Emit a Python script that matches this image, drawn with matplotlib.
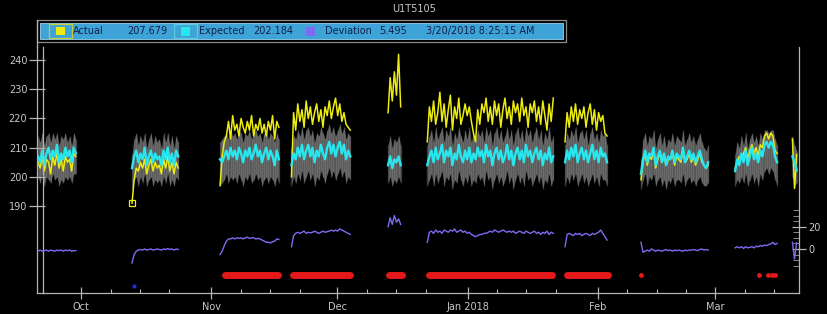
"""
Trend view for tag U1T5105: actual vs expected with deviation on a second axis.
"""

import matplotlib
matplotlib.use("Agg")
import matplotlib.pyplot as plt
import matplotlib.dates as mdates
import pandas as pd
from matplotlib.patches import Rectangle
from matplotlib.lines import Line2D
from matplotlib.ticker import FixedLocator, FuncFormatter

TITLE = "U1T5105"
STEP = "12h"

# start of each run of data (points every 12 hours)
seg_starts = ["2017-09-20 18:00", "2017-10-13 03:00", "2017-11-03 02:00",
              "2017-11-20 02:00", "2017-12-13 02:00", "2017-12-22 10:00",
              "2018-01-24 05:00", "2018-02-11 07:00", "2018-03-05 17:00",
              "2018-03-19 08:25:15"]

actual = [
    [205, 203, 207, 202, 206, 205, 201, 207, 204, 208, 203, 206, 202, 207, 205, 206, 202, 208, 207],
    [191, 199, 203, 202, 205, 203, 206, 201, 204, 206, 202, 205, 203, 204, 201, 206, 203, 207, 202, 205, 201, 205, 203],
    [197, 207, 212, 214, 219, 213, 221, 216, 218, 214, 220, 217, 215, 219, 216, 221, 214, 218, 216, 220, 215, 218, 214, 219, 216, 221, 213, 219, 217],
    [200, 222, 216, 225, 219, 223, 217, 226, 220, 224, 218, 222, 225, 219, 223, 217, 224, 221, 226, 220, 224, 227, 221, 225, 219, 222, 218, 217, 216],
    [222, 234, 226, 236, 228, 242, 224],
    [212, 224, 219, 226, 218, 222, 229, 219, 225, 217, 223, 228, 216, 224, 220, 227, 218, 221, 225, 221,
     224, 219, 215, 212, 223, 218, 225, 222, 227, 219, 224, 218, 226, 221, 225, 217, 223, 227, 220, 224,
     218, 226, 222, 225, 219, 227, 221, 224, 217, 225, 222, 226, 219, 224, 218, 226, 221, 216, 225, 219, 227],
    [212, 222, 217, 224, 219, 225, 218, 223, 220, 224, 217, 222, 225, 218, 223, 216, 222, 219, 221, 215, 214],
    [199, 205, 208, 204, 207, 206, 209, 203, 206, 208, 205, 207, 204, 206, 206, 208, 204, 207, 206, 205,
     209, 205, 206, 208, 205, 207, 204, 206, 208, 205, 204, 203, 204],
    [203, 205, 207, 206, 208, 210, 206, 209, 211, 208, 210, 207, 211, 210, 214, 215, 213, 215, 214, 209, 208],
    [213, 196, 207.679],
]

expected = [
    [207, 205, 209, 204, 208, 210, 206, 209, 207, 211, 205, 208, 206, 210, 207, 209, 205, 210, 208],
    [203, 207, 209, 205, 208, 206, 210, 204, 207, 209, 205, 208, 206, 207, 204, 209, 206, 210, 205, 208, 204, 209, 207],
    [206, 205, 207, 209, 206, 210, 207, 209, 206, 210, 208, 205, 209, 207, 210, 206, 208, 211, 207, 209, 205, 208, 210, 206, 209, 207, 204, 209, 206],
    [204, 208, 206, 210, 207, 211, 206, 209, 211, 207, 210, 205, 209, 207, 211, 208, 206, 210, 212, 208, 211, 207, 210, 212, 208, 211, 206, 209, 207],
    [204, 207, 203, 206, 205, 207, 204],
    [204, 207, 209, 205, 210, 206, 208, 211, 205, 209, 207, 210, 204, 208, 206, 211, 207, 205, 209, 206,
     210, 205, 208, 206, 210, 207, 209, 205, 211, 207, 209, 204, 208, 210, 206, 209, 205, 207, 211, 206,
     209, 204, 208, 210, 206, 209, 205, 211, 207, 209, 205, 208, 210, 206, 209, 204, 208, 206, 210, 205, 207],
    [205, 209, 206, 210, 207, 211, 205, 208, 210, 206, 209, 205, 208, 211, 206, 209, 205, 210, 207, 208, 205],
    [201, 206, 209, 205, 208, 207, 210, 204, 207, 209, 205, 208, 204, 207, 206, 209, 205, 208, 207, 206,
     210, 205, 207, 209, 206, 208, 205, 207, 209, 206, 204, 203, 205],
    [202, 206, 204, 208, 205, 209, 204, 207, 210, 206, 208, 205, 209, 207, 211, 212, 210, 212, 211, 207, 205],
    [207, 205, 202.184],
]

band_hi = [
    [214, 212, 215, 211, 214, 215, 212, 215, 213, 215, 211, 214, 213, 215, 212, 214, 211, 215, 213],
    [208, 213, 215, 211, 214, 212, 215, 210, 213, 215, 211, 214, 212, 213, 210, 215, 212, 215, 211, 214, 210, 214, 212],
    [212, 213, 214, 215, 213, 216, 214, 215, 213, 216, 215, 212, 215, 214, 216, 213, 215, 216, 214, 215, 212, 215, 216, 213, 215, 214, 212, 215, 213],
    [210, 214, 213, 216, 214, 217, 213, 216, 217, 214, 216, 212, 215, 214, 217, 215, 213, 216, 218, 215, 217, 214, 216, 218, 215, 217, 213, 215, 214],
    [211, 214, 210, 213, 212, 214, 211],
    [211, 214, 216, 212, 217, 213, 215, 217, 212, 216, 214, 217, 211, 215, 213, 217, 214, 212, 216, 213,
     217, 212, 215, 213, 216, 214, 216, 212, 217, 214, 216, 211, 215, 217, 213, 216, 212, 214, 217, 213,
     216, 211, 215, 217, 213, 216, 212, 217, 214, 216, 212, 215, 217, 213, 216, 211, 215, 213, 217, 212, 214],
    [211, 215, 213, 216, 214, 217, 212, 215, 216, 213, 216, 211, 215, 217, 213, 215, 212, 216, 214, 215, 211],
    [206, 213, 215, 211, 214, 213, 216, 210, 213, 215, 211, 214, 210, 213, 212, 215, 211, 214, 213, 212,
     216, 211, 213, 215, 212, 214, 211, 213, 215, 212, 210, 209, 211],
    [208, 212, 210, 214, 211, 215, 210, 213, 215, 212, 214, 211, 215, 213, 216, 216, 215, 216, 216, 213, 211],
    [214, 211, 209],
]

band_lo = [
    [200, 198, 201, 197, 200, 199, 198, 201, 199, 200, 197, 199, 198, 200, 199, 200, 198, 201, 201],
    [196, 199, 200, 197, 200, 198, 201, 197, 199, 200, 197, 199, 198, 199, 197, 200, 198, 201, 197, 199, 197, 200, 199],
    [197, 198, 199, 201, 198, 200, 199, 200, 198, 201, 199, 197, 200, 199, 201, 198, 199, 201, 199, 200, 197, 199, 200, 198, 200, 199, 197, 200, 198],
    [197, 200, 198, 201, 199, 202, 198, 200, 202, 199, 201, 197, 200, 199, 202, 200, 198, 201, 203, 200, 202, 199, 201, 203, 200, 202, 198, 200, 199],
    [198, 200, 197, 199, 198, 200, 198],
    [197, 199, 201, 197, 201, 198, 200, 202, 197, 200, 199, 201, 196, 199, 198, 202, 199, 197, 200, 198,
     201, 197, 199, 198, 201, 199, 200, 197, 202, 199, 200, 196, 199, 201, 198, 200, 197, 199, 202, 198,
     200, 196, 199, 201, 198, 200, 197, 202, 199, 200, 197, 199, 201, 198, 200, 196, 199, 198, 201, 197, 199],
    [197, 200, 198, 201, 199, 201, 197, 199, 201, 198, 200, 197, 199, 201, 198, 200, 197, 201, 199, 199, 197],
    [196, 199, 201, 197, 200, 199, 201, 197, 199, 200, 197, 199, 196, 199, 198, 200, 197, 199, 199, 198,
     201, 197, 199, 200, 198, 199, 197, 199, 200, 198, 197, 197, 198],
    [197, 199, 198, 200, 198, 201, 197, 199, 201, 198, 200, 197, 201, 199, 202, 203, 201, 203, 202, 199, 197],
    [200, 197, 198],
]

deviation = [
    [-2, -1, -2, -1.5, -1, -2, -1, -1.5, -2, -1, -1.5, -1, -2, -1, -1.5, -1, -2, -1.5, -1.5],
    [-12.5, -5, -2, -1, -0.5, -1, 0, -1, -0.5, 0, -1, -0.5, 0, -0.5, -1, 0, -0.5, 0.5, -0.5, 0, -1, 0, -0.5],
    [-5, -2, 3, 7, 9, 9, 10, 9, 10, 9.5, 10, 9, 10, 10.5, 9.5, 10, 10, 9, 9.5, 9, 8, 7, 6, 6, 5.5, 6.5, 7, 9, 8.5],
    [2, 12, 14, 15, 14, 15, 16, 14, 15, 14.5, 15, 16, 15, 14, 15, 16, 15, 15.5, 16, 17, 16, 17, 16, 18, 17, 16, 15, 14, 13],
    [20, 28, 22, 30, 24, 27, 22],
    [6, 15, 16, 14, 17, 15, 16, 14, 17, 16, 15, 17, 16, 18, 15, 16, 17, 15, 16, 14,
     15, 13, 12, 11, 12, 13, 13, 14, 14, 15, 16, 15, 17, 16, 15, 16, 17, 16, 15, 16,
     15, 16, 14, 15, 16, 15, 14, 16, 15, 14, 15, 16, 14, 15, 13, 15, 14, 16, 13, 15, 14],
    [2, 13, 14, 13, 12, 14, 13, 14, 12, 13, 14, 13, 12, 14, 13, 14, 15, 17, 14, 11, 8],
    [6, -3, -2, -1, -2, 0, -1, -2, -1, -1.5, -2, -1, -0.5, -1.5, -1, -2, -1, -1.5, -1, -1.5,
     -2, -1, -1.5, -1, -1, -0.5, -1, -1.5, -0.5, 0, -1, -0.5, -1],
    [1, 2, 1, 2, 0.5, 2, 1, 1.5, 2, 1, 2.5, 2, 3, 2.5, 3.5, 3, 4, 4.5, 6, 4, 5],
    [6, -9, 5.495],
]

# red status flags (drawn on the deviation axis)
alarm_level = -23.3
alarm_runs = [("2017-11-04 08:00", "2017-11-16 20:00"), ("2017-11-20 12:00", "2017-12-04 00:00"),
              ("2017-12-13 10:00", "2017-12-16 08:00"), ("2017-12-22 20:00", "2018-01-21 00:00"),
              ("2018-01-24 14:00", "2018-02-03 08:00")]
alarm_points = ["2018-02-11 07:00", "2018-03-11 10:00", "2018-03-13 14:00",
                "2018-03-14 12:00", "2018-03-15 05:00"]
blue_point = ("2017-10-13 14:00", -33.2)

BG = "black"
AXIS = "#b4b4b4"
LABEL = "#c8c8c8"
YELLOW = "#ecec10"
CYAN = "#28e6ee"
PURPLE = "#7b6cf0"
RED = "#e41818"
BAR = "#3ea3d6"
BAR_TEXT = "#10204a"

W, H = 828, 314


def fx(x):
    return x / W


def fy(y):
    return 1 - y / H


def month_label(v, pos):
    d = mdates.num2date(v)
    return d.strftime("%b %Y") if d.month == 1 else d.strftime("%b")


fig = plt.figure(figsize=(W / 100, H / 100), dpi=100, facecolor=BG)
ax = fig.add_axes([fx(37), fy(293), (799 - 37) / W, (293 - 47) / H], facecolor=BG)
ax2 = ax.twinx()

for i, start in enumerate(seg_starts):
    t = pd.date_range(start, periods=len(actual[i]), freq=STEP)
    # expected range drawn as grey band with faint streaks
    ax.fill_between(t, band_lo[i], band_hi[i], color="#545454", lw=0)
    ax.vlines(t, band_lo[i], band_hi[i], color="#a0a0a0", lw=1.0, alpha=0.3)
    ax.plot(t, actual[i], color=YELLOW, lw=1.1)
    ax.plot(t, expected[i], color=CYAN, lw=1.7)
    ax2.plot(t, deviation[i], color=PURPLE, lw=1.0)
    if i == 1:
        # restart point marker
        ax.plot(t[:1], actual[i][:1], "s", mfc="none", mec=YELLOW, ms=4, mew=0.9)

for s, e in alarm_runs:
    ax2.plot([pd.Timestamp(s), pd.Timestamp(e)], [alarm_level, alarm_level],
             color=RED, lw=5, solid_capstyle="round")
ax2.plot(pd.to_datetime(alarm_points), [alarm_level] * len(alarm_points), "o",
         color=RED, ms=3.5, mew=0)
ax2.plot([pd.Timestamp(blue_point[0])], [blue_point[1]], "o", color="#2828d8", ms=3, mew=0)

ax.set_xlim(pd.Timestamp("2017-09-20 12:00"), pd.Timestamp("2018-03-20 22:00"))
ax.set_ylim(160.2, 244.5)
ax2.set_ylim(-39.5, 181.2)

# spines
for sp in ["top", "right"]:
    ax.spines[sp].set_visible(False)
for sp in ["top", "left", "bottom"]:
    ax2.spines[sp].set_visible(False)
for sp in [ax.spines["left"], ax.spines["bottom"], ax2.spines["right"]]:
    sp.set_color(AXIS)
    sp.set_linewidth(0.9)
# second vertical rule just inside the frame
ax.plot([6 / 762, 6 / 762], [0, 1], transform=ax.transAxes, color=AXIS, lw=0.9, clip_on=False)

ax.set_yticks(range(190, 241, 10))
ax.tick_params(axis="y", direction="inout", length=11, width=0.9, colors=AXIS,
               labelcolor=LABEL, labelsize=7, pad=1.5)
ax.xaxis.set_major_locator(mdates.MonthLocator())
ax.xaxis.set_minor_locator(mdates.DayLocator(bymonthday=[8, 15, 22]))
ax.xaxis.set_major_formatter(FuncFormatter(month_label))
ax.tick_params(axis="x", which="major", direction="inout", length=9, width=0.9,
               colors=AXIS, labelcolor=LABEL, labelsize=7, pad=2)
ax.tick_params(axis="x", which="minor", direction="in", length=3, width=0.8, colors=AXIS)

ax2.set_yticks([0, 20])
ax2.yaxis.set_minor_locator(FixedLocator([-15, -10, -5, 5, 10, 15, 25, 30, 35]))
ax2.tick_params(axis="y", which="major", direction="inout", length=10, width=0.9,
                colors=AXIS, labelcolor=LABEL, labelsize=7, pad=2)
ax2.tick_params(axis="y", which="minor", direction="in", length=4, width=0.7, colors="#8a8a8a")

# title and legend bar
fig.text(fx(414), fy(9), TITLE, ha="center", va="center", color=LABEL, fontsize=7)
fig.add_artist(Line2D([fx(37), fx(37)], [fy(20), fy(47)], color=AXIS, lw=0.9))
fig.add_artist(Rectangle((fx(37), fy(42)), (566 - 37) / W, 22 / H, transform=fig.transFigure,
                         fill=False, edgecolor="#8a8a8a", lw=0.9))
fig.add_artist(Rectangle((fx(40), fy(39)), (563 - 40) / W, 16 / H, transform=fig.transFigure,
                         facecolor=BAR, edgecolor="#9ad4ee", lw=0.6))


def swatch(x0, x1, color, size, outline=None):
    if outline:
        fig.add_artist(Rectangle((fx(x0), fy(38)), (x1 - x0) / W, 14 / H, transform=fig.transFigure,
                                 fill=False, edgecolor=outline, lw=0.9))
    cx = (x0 + x1) / 2
    fig.add_artist(Rectangle((fx(cx - size / 2), fy(31 + size / 2)), size / W, size / H,
                             transform=fig.transFigure, facecolor=color, lw=0))


last_time = pd.date_range(seg_starts[-1], periods=len(actual[-1]), freq=STEP)[-1]
stamp = f"{last_time.month}/{last_time.day}/{last_time.year} " \
        f"{last_time.hour % 12 or 12}:{last_time:%M:%S %p}"

swatch(49, 72, YELLOW, 8, outline="#c4cc40")
swatch(174, 197, CYAN, 9, outline="#58cce6")
swatch(306, 316, PURPLE, 9)
legend_items = [(73, "Actual"), (127, f"{actual[-1][-1]:.3f}"),
                (199, "Expected"), (253, f"{expected[-1][-1]:.3f}"),
                (325, "Deviation"), (379, f"{deviation[-1][-1]:.3f}"),
                (426, stamp)]
for x, txt in legend_items:
    fig.text(fx(x), fy(31), txt, ha="left", va="center", color=BAR_TEXT, fontsize=7)

fig.savefig("out.png", dpi=100, facecolor=BG)
